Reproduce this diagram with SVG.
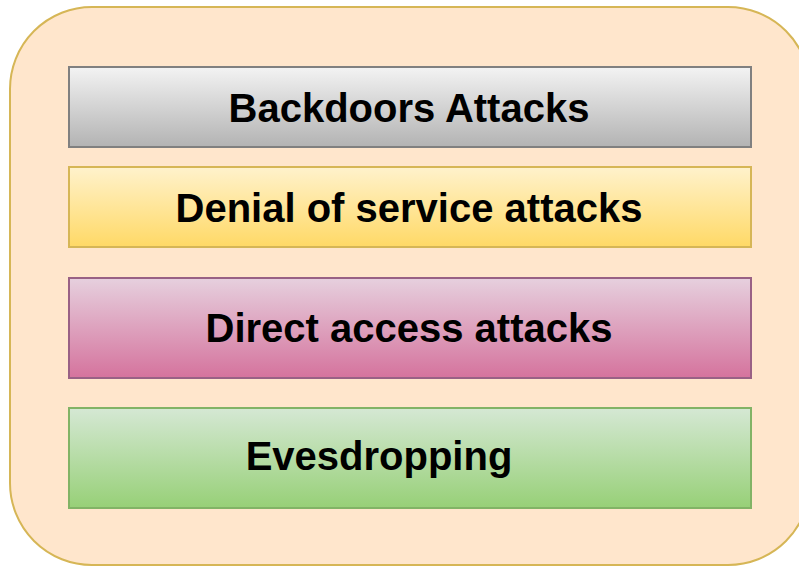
<svg xmlns="http://www.w3.org/2000/svg" width="799" height="567" viewBox="0 0 799 567">
<defs>
<linearGradient id="gGray" x1="0" y1="0" x2="0" y2="1"><stop offset="0" stop-color="#f3f3f3"/><stop offset="1" stop-color="#b3b3b3"/></linearGradient>
<linearGradient id="gYellow" x1="0" y1="0" x2="0" y2="1"><stop offset="0" stop-color="#fff2cc"/><stop offset="1" stop-color="#ffd966"/></linearGradient>
<linearGradient id="gPink" x1="0" y1="0" x2="0" y2="1"><stop offset="0" stop-color="#e6d0de"/><stop offset="1" stop-color="#d5739d"/></linearGradient>
<linearGradient id="gGreen" x1="0" y1="0" x2="0" y2="1"><stop offset="0" stop-color="#d5e8d4"/><stop offset="1" stop-color="#97d077"/></linearGradient>
</defs>
<style>
text{font-family:"Liberation Sans",Arial,sans-serif;font-weight:bold;font-size:40px;fill:#000;text-anchor:middle}
.box{stroke-width:2}
</style>
<rect width="799" height="567" fill="#ffffff"/>
<g id="container">
<rect x="10" y="7" width="800" height="558" rx="82" ry="82" fill="#ffe6cc" stroke="#d6b656" stroke-width="2"/>
</g>
<g id="backdoors">
<rect class="box" x="69" y="67" width="682" height="80" fill="url(#gGray)" stroke="#808080"/>
<text x="409" y="122">Backdoors Attacks</text>
</g>
<g id="dos">
<rect class="box" x="69" y="167" width="682" height="80" fill="url(#gYellow)" stroke="#d6b656"/>
<text x="409" y="222">Denial of service attacks</text>
</g>
<g id="direct">
<rect class="box" x="69" y="278" width="682" height="100" fill="url(#gPink)" stroke="#996185"/>
<text x="409" y="342">Direct access attacks</text>
</g>
<g id="eves">
<rect class="box" x="69" y="408" width="682" height="100" fill="url(#gGreen)" stroke="#82b366"/>
<text x="379" y="470">Evesdropping</text>
</g>
<g id="connectors"/>
</svg>
